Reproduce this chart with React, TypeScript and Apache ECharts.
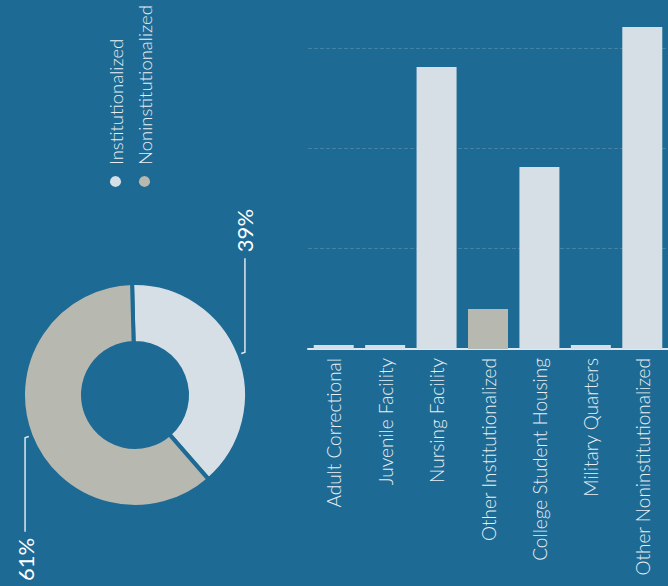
import React, { useEffect, useRef } from "react";
import * as echarts from "echarts";

const categories = [
  "Adult Correctional",
  "Juvenile Facility",
  "Nursing Facility",
  "Other Institutionalized",
  "College Student Housing",
  "Military Quarters",
  "Other Noninstitutionalized",
];
const barValues = [4, 4, 282, 40, 182, 4, 322];
const highlightedCategory = "Other Institutionalized";

const groups = ["Institutionalized", "Noninstitutionalized"];
const groupShares = [39, 61];

const valueTicks = [0, 100, 200, 300];

const BG = "#1d6a95";
const LIGHT = "#d6dfe5";
const GREIGE = "#b7b8b0";
const TEXT = "#e8eef2";
const FONT = "Lato, 'Open Sans', sans-serif";

export default function App() {
  const ref = useRef<HTMLDivElement>(null);

  useEffect(() => {
    if (!ref.current) return;
    const chart = echarts.init(ref.current, null, { renderer: "svg" });
    const option = {
      animation: false,
      backgroundColor: BG,
      legend: {
        data: groups,
        orient: "vertical",
        left: 392,
        top: 101,
        itemWidth: 13,
        itemHeight: 13,
        itemGap: 10,
        icon: "circle",
        textStyle: {
          color: TEXT,
          fontSize: 18.5,
          fontFamily: FONT,
          fontWeight: 300,
          padding: [0, 0, 0, 5],
        },
      },
      grid: { left: 237, top: 308, bottom: 0, right: 9, containLabel: false },
      xAxis: {
        type: "value",
        min: valueTicks[0],
        max: 340,
        interval: valueTicks[1] - valueTicks[0],
        axisLabel: { show: false },
        axisLine: { show: false },
        axisTick: { show: false },
        splitLine: {
          show: true,
          showMinLine: false,
          showMaxLine: false,
          lineStyle: { color: "rgba(255,255,255,0.16)", type: "dashed", width: 1 },
        },
      },
      yAxis: {
        type: "category",
        data: categories,
        inverse: true,
        axisTick: { show: false },
        axisLine: { show: true, lineStyle: { color: "#dfe7ec", width: 2 } },
        axisLabel: {
          color: TEXT,
          fontSize: 19,
          fontFamily: FONT,
          fontWeight: 300,
          margin: 9,
        },
      },
      series: [
        {
          type: "bar",
          barWidth: 40,
          data: barValues.map((v, i) => ({
            value: v,
            itemStyle: { color: categories[i] === highlightedCategory ? GREIGE : LIGHT },
          })),
        },
        {
          type: "pie",
          center: [191, 135],
          radius: [52, 112],
          startAngle: 1.5,
          clockwise: true,
          itemStyle: { borderColor: BG, borderWidth: 4 },
          color: [LIGHT, GREIGE],
          label: {
            show: true,
            position: "outside",
            formatter: "{c}%",
            color: "#ffffff",
            fontSize: 22,
            fontFamily: FONT,
            distanceToLabelLine: 6,
            overflow: "none",
            edgeDistance: 0,
          },
          labelLine: {
            show: true,
            length: 6,
            length2: 94,
            lineStyle: { color: "#dfe7ec", width: 1.5 },
          },
          emphasis: { disabled: true },
          data: groups.map((g, i) => ({ name: g, value: groupShares[i] })),
        },
      ],
    };
    chart.setOption(option as any);
    return () => chart.dispose();
  }, []);

  return (
    <div
      style={{
        position: "fixed",
        left: 0,
        top: 0,
        width: 668,
        height: 586,
        overflow: "hidden",
        background: BG,
      }}
    >
      <div
        ref={ref}
        style={{
          position: "absolute",
          left: 0,
          top: 0,
          width: 586,
          height: 668,
          transformOrigin: "0 0",
          transform: "translate(0px, 586px) rotate(-90deg)",
        }}
      />
    </div>
  );
}
